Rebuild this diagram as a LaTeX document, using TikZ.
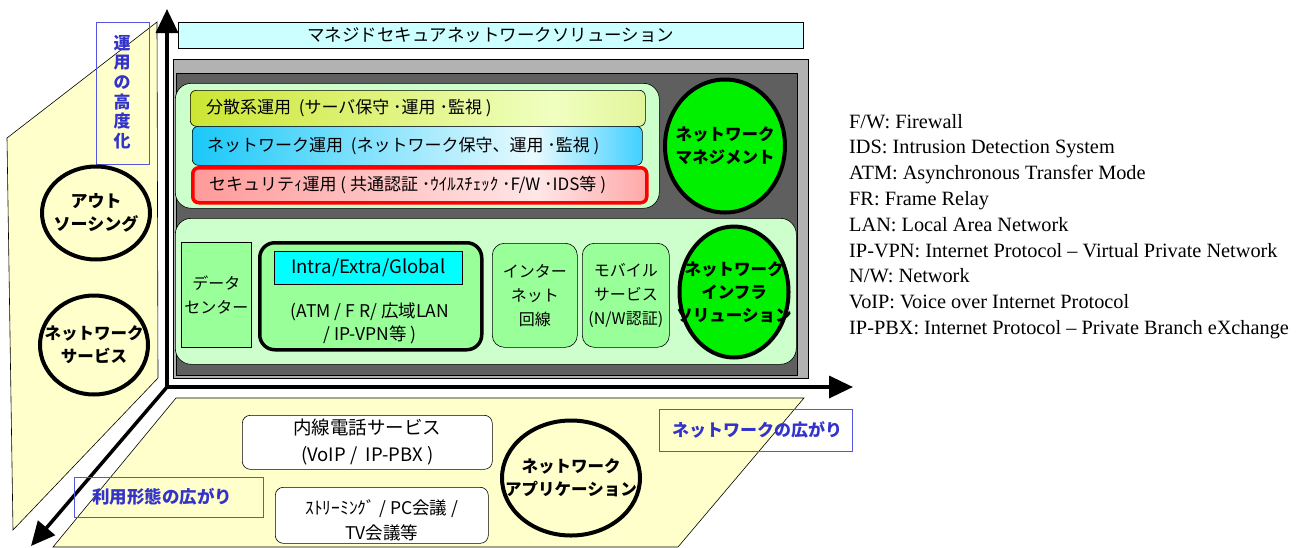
\documentclass[tikz,border=0pt]{standalone}
\usepackage{fontspec}
\setmainfont{Liberation Serif}
\newfontfamily\jp{Noto Sans CJK JP}
\usetikzlibrary{arrows.meta,shapes.geometric}
\definecolor{ybg}{HTML}{FFFFCC}
\definecolor{titlec}{HTML}{CCFFFF}
\definecolor{lgray}{HTML}{B2B2B2}
\definecolor{dgray}{HTML}{5F5F5F}
\definecolor{panel}{HTML}{CCFFCC}
\definecolor{boxg}{HTML}{99FF99}
\definecolor{elg}{HTML}{00F000}
\definecolor{intra}{HTML}{00FFFF}
\definecolor{lblue}{HTML}{3333CC}
\definecolor{lbord}{HTML}{5555DD}
\definecolor{ygA}{HTML}{CCE633}
\definecolor{ygB}{HTML}{F0FFC0}
\definecolor{ygC}{HTML}{E2F59A}
\definecolor{cyA}{HTML}{1AC8F8}
\definecolor{cyB}{HTML}{E8FAFF}
\definecolor{cyC}{HTML}{40D0FF}
\definecolor{pkA}{HTML}{FF9A9A}
\definecolor{pkB}{HTML}{FFE6E6}
\definecolor{pkC}{HTML}{FFA8A8}
\pgfdeclarehorizontalshading{shone}{100bp}{color(0bp)=(ygA); color(25bp)=(ygA); color(65bp)=(ygB); color(75bp)=(ygC); color(100bp)=(ygC)}
\pgfdeclarehorizontalshading{shtwo}{100bp}{color(0bp)=(cyA); color(25bp)=(cyA); color(63bp)=(cyB); color(75bp)=(cyC); color(100bp)=(cyC)}
\pgfdeclarehorizontalshading{shthree}{100bp}{color(0bp)=(pkA); color(25bp)=(pkA); color(63bp)=(pkB); color(75bp)=(pkC); color(100bp)=(pkC)}
\tikzset{
  box/.style={anchor=north west, draw=black, line width=0.6pt, inner sep=0pt},
  bar/.style={box, rounded corners=6pt, shade},
  bartext/.style={anchor=west, font=\jp\fontsize{17}{20}\selectfont, inner sep=0pt},
  jtxt/.style={align=center, inner sep=0pt, font=\jp\fontsize{16}{24}\selectfont},
  ell/.style={ellipse, draw=black, line width=4pt, inner sep=0pt},
  etxt/.style={align=center, inner sep=0pt, font=\jp\bfseries\fontsize{16.5}{23}\selectfont},
  lbl/.style={draw=lbord, line width=0.8pt, anchor=north west, inner sep=0pt},
  lbltext/.style={text=lblue, align=center, inner sep=0pt, font=\jp\bfseries\fontsize{17}{20}\selectfont},
  axis/.style={line width=3.5pt, -{Triangle[length=24pt,width=22pt]}},
  legend/.style={anchor=base west, inner sep=0pt, font=\rmfamily\fontsize{20.3}{24}\selectfont},
}
\begin{document}
\begin{tikzpicture}[x=1pt,y=-1pt]
\useasboundingbox (0,0) rectangle (1306,547);
% planes
\filldraw[fill=ybg, draw=black, line width=0.6pt] (7,138) -- (157,22) -- (158,378) -- (13,530) -- cycle;
\filldraw[fill=ybg, draw=black, line width=0.6pt] (176,398) -- (804,398) -- (678,547) -- (53,547) -- cycle;
% axes
\coordinate (O) at (167,387);
\coordinate (ytip) at (167,9);
\coordinate (xtip) at (853,387);
\coordinate (ztip) at (31,546);
\draw[axis] (O) -- (ytip);
\draw[axis] (O) -- (xtip);
\draw[axis] (O) -- (ztip);
% title
\node[box, fill=titlec, minimum width=625, minimum height=26] (title) at (178,22) {};
\node[font=\jp\fontsize{17.5}{20}\selectfont, inner sep=0pt] (titlet) at (title.center) {マネジドセキュアネットワークソリューション};
% gray frame
\node[box, fill=lgray, minimum width=635, minimum height=319] (outer) at (173,59) {};
\node[box, fill=dgray, minimum width=621, minimum height=302] (inner) at (176,73) {};
% upper panel
\node[box, fill=panel, rounded corners=16pt, minimum width=484, minimum height=125] (upper) at (175,83) {};
\node[bar, shading=shone, minimum width=455, minimum height=36] (bar1) at (190,90) {};
\node[bar, shading=shtwo, minimum width=450, minimum height=39] (bar2) at (192,126) {};
\node[bar, shading=shthree, draw=red, line width=3.5pt, minimum width=454, minimum height=35] (bar3) at (191,166) {};
\node[bartext] (bar1t) at ([xshift=16pt]bar1.west) {分散系運用\ \ (サーバ保守\ ･運用\ ･監視\ )};
\node[bartext] (bar2t) at ([xshift=15pt]bar2.west) {ネットワーク運用\ \ (ネットワーク保守、運用\ ･監視\ )};
\node[bartext] (bar3t) at ([xshift=18pt]bar3.west) {セキュリテｨ運用\ ( 共通認証\ ･ｳｲﾙｽﾁｪｯｸ\ ･F/W\ ･IDS等\ )};
\node[ell, fill=elg, minimum width=120, minimum height=133] (nm) at (725,146) {};
\node[etxt] (nmt) at (nm.center) {ネットワーク\\マネジメント};
% lower panel
\node[box, fill=panel, rounded corners=16pt, minimum width=621, minimum height=146] (lower) at (175,218) {};
\node[box, fill=boxg, minimum width=70, minimum height=105] (dc) at (181,242) {};
\node[jtxt] (dct) at (dc.center) {データ\\センター};
\node[box, fill=boxg, line width=3.5pt, rounded corners=15pt, minimum width=222, minimum height=107] (wan) at (258,241) {};
\node[box, fill=intra, minimum width=188, minimum height=33] (ie) at (274,251) {};
\node[jtxt, font=\jp\fontsize{18.5}{20}\selectfont] (iet) at (ie.center) {Intra/Extra/Global};
\node[jtxt, font=\jp\fontsize{17.5}{23}\selectfont] (want) at (370,323) {(ATM / F R/ 広域LAN\\/ IP-VPN等 )};
\node[box, fill=boxg, rounded corners=12pt, minimum width=85, minimum height=104] (inet) at (492,243) {};
\node[jtxt] (inett) at (inet.center) {インター\\ネット\\回線};
\node[box, fill=boxg, rounded corners=12pt, minimum width=87, minimum height=104] (mob) at (582,243) {};
\node[jtxt] (mobt) at (mob.center) {モバイル\\サービス\\(N/W認証)};
\node[ell, fill=elg, minimum width=109, minimum height=131] (infra) at (734,292) {};
\node[etxt] (infrat) at (infra.center) {ネットワーク\\インフラ\\ソリューション};
% left plane items
\node[lbl, minimum width=53, minimum height=142] (vlab) at (96,22) {};
\node[lbltext, font=\jp\bfseries\fontsize{17}{19.6}\selectfont] (vlabt) at (122,92) {運\\用\\の\\高\\度\\化};
\node[ell, fill=ybg, minimum width=108, minimum height=93] (out) at (96,213) {};
\node[etxt, font=\jp\bfseries\fontsize{17}{23}\selectfont] (outt) at (out.center) {アウト\\ソーシング};
\node[ell, fill=ybg, minimum width=108, minimum height=99] (nsv) at (94,345) {};
\node[etxt] (nsvt) at (nsv.center) {ネットワーク\\サービス};
% bottom plane items
\node[lbl, minimum width=193, minimum height=42] (xlab) at (659,409) {};
\node[lbltext] (xlabt) at (757,430) {ネットワークの広がり};
\node[lbl, minimum width=189, minimum height=40] (zlab) at (74,477) {};
\node[lbltext, font=\jp\bfseries\fontsize{17.5}{20}\selectfont] (zlabt) at (162,497) {利用形態の広がり};
\node[box, fill=white, rounded corners=8pt, minimum width=250, minimum height=54] (tel) at (242,415) {};
\node[jtxt, font=\jp\fontsize{18.5}{27}\selectfont] (telt) at (tel.center) {内線電話サービス\\(VoIP /\ \ IP-PBX )};
\node[box, fill=white, rounded corners=8pt, minimum width=213, minimum height=56] (str) at (275,487) {};
\node[jtxt, font=\jp\fontsize{17.5}{25}\selectfont] (strt) at ([yshift=-5pt]str.center) {ｽﾄﾘｰﾐﾝｸﾞ / PC会議 /\\TV会議等};
\node[ell, fill=ybg, minimum width=138, minimum height=115] (app) at (571,478) {};
\node[etxt] (appt) at (app.center) {ネットワーク\\アプリケーション};
% legend
\foreach \t [count=\i] in {{F/W: Firewall},{IDS: Intrusion Detection System},{ATM: Asynchronous Transfer Mode},{FR: Frame Relay},{LAN: Local Area Network},{IP-VPN: Internet Protocol -- Virtual Private Network},{N/W: Network},{VoIP: Voice over Internet Protocol},{IP-PBX: Internet Protocol -- Private Branch eXchange}}
  \node[legend] (leg\i) at (849,{128+25.8*(\i-1)}) {\t};
\end{tikzpicture}
\end{document}
